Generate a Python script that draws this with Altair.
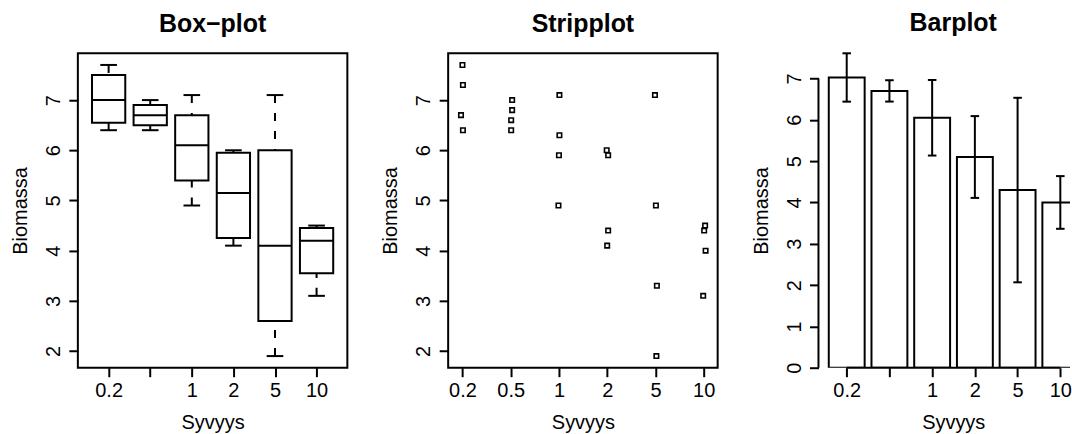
import altair as alt
import pandas as pd

# ---------------- data ----------------
categories = ["0.2", "0.5", "1", "2", "5", "10"]
biomassa = [
    [7.7, 7.3, 6.7, 6.4],
    [7.0, 6.8, 6.6, 6.4],
    [7.1, 6.3, 5.9, 4.9],
    [6.0, 5.9, 4.4, 4.1],
    [7.1, 4.9, 3.3, 1.9],
    [4.5, 4.4, 4.0, 3.1],
]
# horizontal jitter of the strip-plot points (in category units)
jitter = [
    [0.00, 0.01, -0.03, 0.01],
    [0.03, 0.03, 0.01, 0.01],
    [0.01, 0.01, 0.00, -0.01],
    [-0.01, 0.02, 0.02, 0.00],
    [-0.01, 0.01, 0.03, 0.02],
    [0.03, 0.01, 0.04, -0.01],
]
# box-plot statistics
whisker_low = [6.4, 6.4, 4.9, 4.1, 1.9, 3.1]
hinge_low = [6.55, 6.5, 5.4, 4.25, 2.6, 3.55]
median = [7.0, 6.7, 6.1, 5.15, 4.1, 4.2]
hinge_high = [7.5, 6.9, 6.7, 5.95, 6.0, 4.45]
whisker_high = [7.7, 7.0, 7.1, 6.0, 7.1, 4.5]

y_ticks_box = [2, 3, 4, 5, 6, 7]
y_ticks_bar = [0, 1, 2, 3, 4, 5, 6, 7]
labels_box = ["0.2", "", "1", "2", "5", "10"]
labels_strip = categories
labels_bar = ["0.2", "", "1", "2", "5", "10"]

# ---------------- tables ----------------
positions = list(range(1, len(categories) + 1))
rows = []
for i, cat in enumerate(categories):
    for v, j in zip(biomassa[i], jitter[i]):
        rows.append({"Syvyys": cat, "idx": positions[i], "value": v, "jit": j})
strip_df = pd.DataFrame(rows)

box_df = pd.DataFrame({
    "idx": positions,
    "wl": whisker_low, "q1": hinge_low, "med": median,
    "q3": hinge_high, "wh": whisker_high,
})

# ---------------- styling ----------------
FONT = "Liberation Sans"
W, H = 270, 315
W3 = 252
SW = 2
BLACK = "black"


def x_axis(labels, title_x, flush=False):
    expr = "[" + ",".join("'%s'" % l for l in labels) + "][datum.value - 1]"
    return alt.Axis(
        values=positions, labelExpr=expr, title="Syvyys", grid=False,
        domain=False, ticks=True, tickSize=9, tickWidth=SW, tickColor=BLACK,
        labelFont=FONT, labelFontSize=20, labelColor=BLACK,
        labelBaseline="alphabetic", labelAlign="center", labelPadding=20.3,
        labelFlush=flush, labelOverlap=False,
        titleFont=FONT, titleFontSize=20, titleFontWeight="normal",
        titleColor=BLACK, titleBaseline="alphabetic", titleAlign="center",
        titleX=title_x, titleY=61.3,
    )


def y_axis(values):
    return alt.Axis(
        values=values, title="Biomassa", grid=False, domain=False,
        ticks=True, tickSize=9, tickWidth=SW, tickColor=BLACK,
        labelFont=FONT, labelFontSize=20, labelColor=BLACK,
        labelAngle=270, labelAlign="center", labelBaseline="alphabetic",
        labelPadding=9.5, labelOverlap=False, labelFlush=False,
        titleFont=FONT, titleFontSize=20, titleFontWeight="normal",
        titleColor=BLACK, titleAngle=270, titleAlign="center",
        titleBaseline="alphabetic", titleX=-51.3, titleY=H / 2,
    )


def title(text, dx=0):
    return alt.TitleParams(
        text=text, font=FONT, fontSize=25, fontWeight="bold", color=BLACK,
        anchor="middle", baseline="alphabetic", offset=-4, dx=dx,
    )


# ---------------- panel 1: box plot ----------------
xs1 = alt.Scale(domain=[0.26, 6.74], nice=False, zero=False)
ys1 = alt.Scale(domain=[1.668, 7.932], nice=False, zero=False)
xax1 = x_axis(labels_box, W / 2)
yax1 = y_axis(y_ticks_box)


def X1(f):
    return alt.X(f + ":Q", scale=xs1, axis=xax1)


def Y1(f):
    return alt.Y(f + ":Q", scale=ys1, axis=yax1)


base1 = alt.Chart(box_df).transform_calculate(
    xl="datum.idx - 0.4", xr="datum.idx + 0.4",
    sl="datum.idx - 0.2", sr="datum.idx + 0.2",
)
dash = dict(color=BLACK, strokeWidth=SW, strokeDash=[8, 10])
solid = dict(color=BLACK, strokeWidth=SW)
p1 = alt.layer(
    base1.mark_rule(**dash).encode(x=X1("idx"), y=Y1("wh"), y2="q3"),
    base1.mark_rule(**dash).encode(x=X1("idx"), y=Y1("wl"), y2="q1"),
    base1.mark_rule(**solid).encode(x=X1("sl"), x2="sr", y=Y1("wh")),
    base1.mark_rule(**solid).encode(x=X1("sl"), x2="sr", y=Y1("wl")),
    base1.mark_rect(fill="white", stroke=BLACK, strokeWidth=SW).encode(
        x=X1("xl"), x2="xr", y=Y1("q1"), y2="q3"),
    base1.mark_rule(**solid).encode(x=X1("xl"), x2="xr", y=Y1("med")),
).properties(
    width=W, height=H, title=title("Box\u2212plot"),
    view=alt.ViewBackground(stroke=BLACK, strokeWidth=SW, fill="white"),
)

# ---------------- panel 2: strip plot ----------------
xs2 = alt.Scale(domain=[0.704, 6.29], nice=False, zero=False)
p2 = alt.Chart(strip_df).transform_calculate(
    xj="datum.idx + datum.jit"
).mark_point(
    shape="square", filled=False, size=20, stroke=BLACK, strokeWidth=1.6,
    opacity=1,
).encode(
    x=alt.X("xj:Q", scale=xs2, axis=x_axis(labels_strip, W / 2)),
    y=alt.Y("value:Q", scale=ys1, axis=y_axis(y_ticks_box)),
).properties(
    width=W, height=H, title=title("Stripplot"),
    view=alt.ViewBackground(stroke=BLACK, strokeWidth=SW, fill="white"),
)

# ---------------- panel 3: bar plot ----------------
xs3 = alt.Scale(domain=[0.339, 0.339 + W3 / 42.8], nice=False, zero=False)
ys3 = alt.Scale(domain=[0, 7.61], nice=False, zero=False)
xax3 = x_axis(labels_bar, 135, flush=12)
yax3 = y_axis(y_ticks_bar)


def X3(f):
    return alt.X(f + ":Q", scale=xs3, axis=xax3)


def Y3(f):
    return alt.Y(f + ":Q", scale=ys3, axis=yax3)


base3 = alt.Chart(strip_df).transform_aggregate(
    mean="mean(value)", sd="stdev(value)", groupby=["idx"]
).transform_calculate(
    xl="datum.idx - 0.42", xr="datum.idx + 0.42",
    cl="datum.idx - 0.1", cr="datum.idx + 0.1",
    lo="datum.mean - datum.sd", hi="datum.mean + datum.sd", zero="0",
)
yline_df = pd.DataFrame({"y0": [min(y_ticks_bar)], "y1": [max(y_ticks_bar)]})
xline_df = pd.DataFrame({"x0": [positions[0]], "x1": [positions[-1]], "y": [0]})

p3 = alt.layer(
    base3.mark_rect(fill="white", stroke=BLACK, strokeWidth=SW, clip=True).encode(
        x=X3("xl"), x2="xr", y=Y3("zero"), y2="mean"),
    alt.Chart(xline_df).mark_rule(**solid).encode(x=X3("x0"), x2="x1", y=Y3("y")),
    base3.mark_rule(**solid).encode(x=X3("idx"), y=Y3("lo"), y2="hi"),
    base3.mark_rule(**solid).encode(x=X3("cl"), x2="cr", y=Y3("hi")),
    base3.mark_rule(**solid).encode(x=X3("cl"), x2="cr", y=Y3("lo")),
    alt.Chart(yline_df).mark_rule(**solid).encode(
        x=alt.value(0), y=Y3("y0"), y2="y1"),
).properties(
    width=W3, height=H, title=title("Barplot", dx=135 - W3 / 2),
    view=alt.ViewBackground(stroke="transparent", fill="white"),
)

chart = alt.hconcat(p1, p2, p3, spacing=101, bounds="flush").properties(
    padding={"left": 9, "top": 10, "right": 0, "bottom": 0},
    background="white",
).configure(font=FONT)

chart.save("out.html", embed_options={"renderer": "svg", "actions": False})
